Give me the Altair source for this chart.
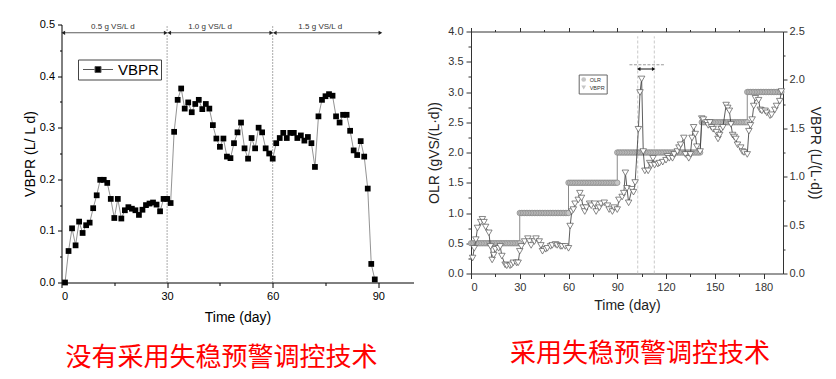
import altair as alt
import pandas as pd

# ---------------- left panel data ----------------
left_days = list(range(1, 90))
left_vbpr = [0.000, 0.061, 0.105, 0.072, 0.118, 0.096, 0.111, 0.116, 0.144, 0.169,
             0.199, 0.199, 0.193, 0.162, 0.125, 0.162, 0.124, 0.140, 0.146, 0.143,
             0.140, 0.131, 0.141, 0.150, 0.153, 0.155, 0.151, 0.138, 0.162, 0.162,
             0.154, 0.292, 0.354, 0.376, 0.337, 0.349, 0.330, 0.346, 0.354, 0.336,
             0.346, 0.337, 0.305, 0.279, 0.263, 0.279, 0.244, 0.241, 0.270, 0.291,
             0.310, 0.260, 0.240, 0.280, 0.260, 0.300, 0.291, 0.260, 0.250, 0.240,
             0.270, 0.280, 0.290, 0.280, 0.290, 0.290, 0.280, 0.285, 0.275, 0.282,
             0.270, 0.224, 0.322, 0.354, 0.361, 0.365, 0.362, 0.322, 0.310, 0.325,
             0.325, 0.294, 0.256, 0.247, 0.274, 0.244, 0.182, 0.036, 0.006]
phase_labels = ["0.5 g VS/L d", "1.0 g VS/L d", "1.5 g VS/L d"]
phase_start = [0.5, 30.6, 60.6]
phase_end = [29.6, 59.6, 90.6]
phase_label_x = [14.6, 42.2, 73.5]
phase_bounds = [30, 60]
phase_arrow_y = 0.484
phase_text_y = 0.495

# ---------------- right panel data ----------------
olr_levels = [0.5, 1.0, 1.5, 2.0, 2.5, 3.0]
olr_start = [0, 30, 60, 90, 142, 170]
olr_end = [30, 60, 90, 141, 170, 191]

vbpr_days = [1, 2, 3, 4, 6, 7, 8, 9, 11, 12,
             13, 14, 15, 17, 18, 19, 21, 22, 24, 25,
             26, 28, 29, 30, 31, 33, 35, 36, 37, 39,
             40, 42, 43, 44, 46, 47, 49, 50, 52, 53,
             55, 56, 58, 60, 61, 62, 63, 64, 66, 67,
             68, 69, 70, 71, 73, 74, 76, 77, 79, 80,
             82, 84, 85, 87, 88, 90, 91, 93, 94, 95,
             96, 97, 99, 100, 101, 103, 104, 105, 106, 107,
             109, 110, 111, 112, 113, 115, 116, 118, 120, 121,
             122, 124, 125, 127, 128, 129, 131, 132, 134, 135,
             136, 137, 138, 139, 141, 142, 143, 145, 146, 147,
             148, 149, 151, 152, 153, 154, 155, 157, 158, 159,
             160, 161, 162, 163, 164, 166, 167, 168, 170, 171,
             172, 173, 174, 175, 177, 178, 179, 181, 182, 184,
             185, 187, 188, 190, 191]
vbpr_vals = [0.16, 0.26, 0.35, 0.47, 0.53, 0.56, 0.53, 0.48, 0.42, 0.28,
             0.14, 0.19, 0.25, 0.26, 0.28, 0.18, 0.09, 0.08, 0.08, 0.09,
             0.11, 0.11, 0.11, 0.23, 0.28, 0.33, 0.36, 0.33, 0.29, 0.33,
             0.36, 0.33, 0.29, 0.23, 0.25, 0.26, 0.28, 0.29, 0.30, 0.29,
             0.28, 0.28, 0.28, 0.26, 0.49, 0.64, 0.66, 0.72, 0.76, 0.83,
             0.78, 0.68, 0.64, 0.68, 0.72, 0.70, 0.72, 0.64, 0.68, 0.72,
             0.73, 0.70, 0.66, 0.64, 0.68, 0.66, 0.76, 0.79, 0.83, 1.04,
             0.88, 0.73, 0.87, 0.84, 0.94, 1.49, 1.87, 2.01, 1.26, 1.06,
             1.06, 1.14, 1.12, 1.19, 1.12, 1.13, 1.14, 1.15, 1.17, 1.21,
             1.19, 1.19, 1.23, 1.26, 1.30, 1.33, 1.40, 1.23, 1.19, 1.23,
             1.40, 1.51, 1.44, 1.31, 1.26, 1.60, 1.59, 1.56, 1.53, 1.56,
             1.51, 1.49, 1.46, 1.39, 1.43, 1.49, 1.51, 1.74, 1.71, 1.68,
             1.54, 1.43, 1.41, 1.39, 1.33, 1.30, 1.26, 1.25, 1.23, 1.47,
             1.53, 1.59, 1.73, 1.81, 1.79, 1.69, 1.68, 1.68, 1.66, 1.63,
             1.64, 1.69, 1.73, 1.78, 1.88]
guide_days = [102.6, 112.8]
guide_top = 3.92
arrow_span = [103.2, 112.4]
arrow_y = 3.38
note_span = [97.5, 119.0]
note_y = 3.45

caption_left = "没有采用失稳预警调控技术"
caption_right = "采用失稳预警调控技术"

FONT = "Liberation Sans"
CJK = "Noto Sans CJK SC"


def cond(test, a, b):
    return {"condition": {"test": test, "value": a}, "value": b}


MAJ01 = "abs(datum.value*10 - round(datum.value*10)) < 0.001"
MAJ05 = "abs(datum.value*2 - round(datum.value*2)) < 0.001"
MAJ30 = "datum.value % 30 == 0"

# ================= LEFT PANEL =================
LW, LH = 352, 258
left_df = pd.DataFrame({"day": left_days, "vbpr": left_vbpr})
left_df["series"] = "VBPR"

lx_scale = alt.Scale(domain=[0, 100], nice=False)
ly_scale = alt.Scale(domain=[0, 0.5], nice=False)

lx_axis = alt.Axis(values=[0, 15, 30, 45, 60, 75, 90],
                   labelExpr=f"{MAJ30} ? datum.label : ''",
                   tickSize=cond(MAJ30, 5, 3), title="Time (day)", grid=False,
                   domainColor="black", tickColor="black", labelColor="black",
                   titleColor="black", labelFontSize=11, titleFontSize=14,
                   titleFontWeight="normal", labelOverlap=False, titlePadding=9,
                   labelPadding=3, labelFont=FONT, titleFont=FONT)
ly_axis = alt.Axis(values=[0, 0.05, 0.1, 0.15, 0.2, 0.25, 0.3, 0.35, 0.4, 0.45, 0.5],
                   labelExpr=f"{MAJ01} ? format(datum.value, '.1f') : ''",
                   tickSize=cond(MAJ01, 4, 2), title="VBPR (L/ L d)", grid=False,
                   domainColor="black", tickColor="black", labelColor="black",
                   titleColor="black", labelFontSize=11, titleFontSize=14,
                   titleFontWeight="normal", labelOverlap=False, titlePadding=2,
                   labelPadding=3, labelFont=FONT, titleFont=FONT)

l_line = alt.Chart(left_df).mark_line(color="#777777", strokeWidth=0.8).encode(
    x=alt.X("day:Q", scale=lx_scale, axis=lx_axis),
    y=alt.Y("vbpr:Q", scale=ly_scale, axis=ly_axis),
)
left_legend = alt.Legend(
    orient="none", legendX=16.5, legendY=35, title=None,
    symbolType="M-2,0H-0.45M0.45,0H2M-0.4,-0.4H0.4V0.4H-0.4Z",
    symbolSize=225, symbolStrokeColor="#555555", symbolStrokeWidth=1,
    symbolFillColor="black", symbolOffset=10, labelOffset=12,
    labelFontSize=15, labelFont=FONT, labelColor="black",
    padding=2, strokeColor="#444444", fillColor="white",
)
l_pts = alt.Chart(left_df).mark_point(shape="square", filled=True, size=33, opacity=1).encode(
    x=alt.X("day:Q", scale=lx_scale, axis=None),
    y=alt.Y("vbpr:Q", scale=ly_scale, axis=None),
    color=alt.Color("series:N", scale=alt.Scale(domain=["VBPR"], range=["black"]),
                    legend=left_legend),
)
bound_df = pd.DataFrame({"x": phase_bounds})
l_bounds = alt.Chart(bound_df).mark_rule(color="#555555", strokeDash=[1, 2], strokeWidth=1).encode(
    x=alt.X("x:Q", scale=lx_scale, axis=None),
    y=alt.Y(datum=0, scale=ly_scale, axis=None),
    y2=alt.Y2(datum=0.5),
)
phase_df = pd.DataFrame({"s": phase_start, "e": phase_end, "lx": phase_label_x,
                         "label": phase_labels})
l_arrows = alt.Chart(phase_df).mark_rule(color="#333333", strokeWidth=0.8).encode(
    x=alt.X("s:Q", scale=lx_scale, axis=None), x2="e:Q",
    y=alt.Y(datum=phase_arrow_y, scale=ly_scale, axis=None),
)
l_head_l = alt.Chart(phase_df).mark_point(shape="triangle-left", filled=True, size=18,
                                           color="#222222", opacity=1).encode(
    x=alt.X("s:Q", scale=lx_scale, axis=None),
    y=alt.Y(datum=phase_arrow_y, scale=ly_scale, axis=None),
)
l_head_r = alt.Chart(phase_df).mark_point(shape="triangle-right", filled=True, size=18,
                                           color="#222222", opacity=1).encode(
    x=alt.X("e:Q", scale=lx_scale, axis=None),
    y=alt.Y(datum=phase_arrow_y, scale=ly_scale, axis=None),
)
l_text = alt.Chart(phase_df).mark_text(fontSize=8, font=FONT, color="#333333",
                                        baseline="middle").encode(
    x=alt.X("lx:Q", scale=lx_scale, axis=None),
    y=alt.Y(datum=phase_text_y, scale=ly_scale, axis=None),
    text="label:N",
)

left = alt.layer(l_line, l_bounds, l_pts, l_arrows, l_head_l, l_head_r, l_text).resolve_axis(
    x="independent", y="independent").properties(
    width=LW, height=LH,
    title=alt.TitleParams(text=caption_left, orient="bottom", anchor="middle", font=CJK,
                          fontSize=26, fontWeight="normal", color="#ff0000", offset=20,
                          dx=-16),
)

# ================= RIGHT PANEL =================
RW, RH = 312, 242
olr_rows = []
for lvl, s, e in zip(olr_levels, olr_start, olr_end):
    for d in range(s, e + 1):
        olr_rows.append({"day": d, "olr": lvl, "idx": len(olr_rows), "series": "OLR"})
olr_df = pd.DataFrame(olr_rows)
vb_df = pd.DataFrame({"day": vbpr_days, "vbpr": vbpr_vals})
vb_df["series"] = "VBPR"

rx_scale = alt.Scale(domain=[0, 192], nice=False)
olr_scale = alt.Scale(domain=[0, 4], nice=False)
vb_scale = alt.Scale(domain=[0, 2.5], nice=False)
AX = "#333333"
xvals = [0, 15, 30, 45, 60, 75, 90, 105, 120, 135, 150, 165, 180]
rx_axis = alt.Axis(values=xvals, labelExpr=f"{MAJ30} ? datum.label : ''",
                   tickSize=cond(MAJ30, 5, 3), title="Time (day)", grid=False,
                   domainColor=AX, tickColor=AX, labelColor=AX, titleColor="#222222",
                   labelFontSize=11, titleFontSize=14, titleFontWeight="normal",
                   labelOverlap=False, titlePadding=6, labelPadding=3,
                   labelFont=FONT, titleFont=FONT)
top_axis = alt.Axis(orient="top", values=xvals, labels=False, title=None,
                    tickSize=cond(MAJ30, 4, 2), grid=False, domainColor=AX, tickColor=AX)
olr_axis = alt.Axis(values=[0, 0.25, 0.5, 0.75, 1, 1.25, 1.5, 1.75, 2, 2.25, 2.5, 2.75,
                            3, 3.25, 3.5, 3.75, 4],
                    labelExpr=f"{MAJ05} ? format(datum.value, '.1f') : ''",
                    tickSize=cond(MAJ05, 5, 3), title="OLR (gVS/(L·d))", grid=False,
                    domainColor=AX, tickColor=AX, labelColor=AX, titleColor="#222222",
                    labelFontSize=11, titleFontSize=14, titleFontWeight="normal",
                    labelOverlap=False, titlePadding=6, labelPadding=3,
                    labelFont=FONT, titleFont=FONT)
vb_axis = alt.Axis(orient="right",
                   values=[0, 0.25, 0.5, 0.75, 1, 1.25, 1.5, 1.75, 2, 2.25, 2.5],
                   labelExpr=f"{MAJ05} ? format(datum.value, '.1f') : ''",
                   tickSize=cond(MAJ05, 4, 2), title="VBPR (L/(L·d))", grid=False,
                   domainColor=AX, tickColor=AX, labelColor=AX, titleColor="#222222",
                   labelFontSize=11, titleFontSize=14, titleFontWeight="normal",
                   labelOverlap=False, titlePadding=3, labelPadding=2,
                   labelFont=FONT, titleFont=FONT)

shape_scale = alt.Scale(domain=["OLR", "VBPR"], range=["circle", "triangle-down"])
right_legend = alt.Legend(orient="none", legendX=107.7, legendY=43, title=None,
                          labelFontSize=5.5, labelFont=FONT, labelColor="#333333",
                          symbolSize=22, symbolFillColor="white",
                          symbolStrokeColor="#444444", symbolStrokeWidth=0.7,
                          padding=2, rowPadding=0, strokeColor="#666666",
                          fillColor="white", labelOffset=3)

r_line_olr = alt.Chart(olr_df).mark_line(color="#8a8a8a", strokeWidth=1).encode(
    x=alt.X("day:Q", scale=rx_scale, axis=rx_axis),
    y=alt.Y("olr:Q", scale=olr_scale, axis=olr_axis),
    order="idx:Q",
)
r_pts_olr = alt.Chart(olr_df).mark_point(filled=True, fill="#c6c6c6", stroke="#7a7a7a",
                                         strokeWidth=0.6, size=30, opacity=1).encode(
    x=alt.X("day:Q", scale=rx_scale, axis=None),
    y=alt.Y("olr:Q", scale=olr_scale, axis=None),
    shape=alt.Shape("series:N", scale=shape_scale, legend=right_legend),
)
guide_df = pd.DataFrame({"x": guide_days})
r_guides = alt.Chart(guide_df).mark_rule(color="#bbbbbb", strokeDash=[3, 2],
                                         strokeWidth=0.8).encode(
    x=alt.X("x:Q", scale=rx_scale, axis=None),
    y=alt.Y(datum=0, scale=olr_scale, axis=None),
    y2=alt.Y2(datum=guide_top),
)
arr_df = pd.DataFrame({"s": [arrow_span[0]], "e": [arrow_span[1]],
                       "ns": [note_span[0]], "ne": [note_span[1]]})
r_arrow = alt.Chart(arr_df).mark_rule(color="#111111", strokeWidth=1).encode(
    x=alt.X("s:Q", scale=rx_scale, axis=None), x2="e:Q",
    y=alt.Y(datum=arrow_y, scale=olr_scale, axis=None),
)
r_head_l = alt.Chart(arr_df).mark_point(shape="triangle-left", filled=True, size=16,
                                        color="#111111", opacity=1).encode(
    x=alt.X("s:Q", scale=rx_scale, axis=None),
    y=alt.Y(datum=arrow_y, scale=olr_scale, axis=None),
)
r_head_r = alt.Chart(arr_df).mark_point(shape="triangle-right", filled=True, size=16,
                                        color="#111111", opacity=1).encode(
    x=alt.X("e:Q", scale=rx_scale, axis=None),
    y=alt.Y(datum=arrow_y, scale=olr_scale, axis=None),
)
r_note = alt.Chart(arr_df).mark_rule(color="#999999", strokeDash=[3, 1.5],
                                     strokeWidth=1).encode(
    x=alt.X("ns:Q", scale=rx_scale, axis=None), x2="ne:Q",
    y=alt.Y(datum=note_y, scale=olr_scale, axis=None),
)
r_line_vb = alt.Chart(vb_df).mark_line(color="#333333", strokeWidth=0.8).encode(
    x=alt.X("day:Q", scale=rx_scale, axis=top_axis),
    y=alt.Y("vbpr:Q", scale=vb_scale, axis=vb_axis),
)
r_pts_vb = alt.Chart(vb_df).mark_point(filled=True, fill="white", stroke="#555555",
                                       strokeWidth=0.7, size=42, opacity=1).encode(
    x=alt.X("day:Q", scale=rx_scale, axis=None),
    y=alt.Y("vbpr:Q", scale=vb_scale, axis=None),
    shape=alt.Shape("series:N", scale=shape_scale, legend=right_legend),
)

right = alt.layer(r_line_olr, r_guides, r_pts_olr, r_note, r_arrow, r_head_l, r_head_r,
                  r_line_vb, r_pts_vb).resolve_scale(y="independent").resolve_axis(
    x="independent", y="independent").properties(
    width=RW, height=RH,
    title=alt.TitleParams(text=caption_right, orient="bottom", anchor="middle", font=CJK,
                          fontSize=26, fontWeight="normal", color="#ff0000", offset=28,
                          dx=13),
)

spacer = alt.Chart(pd.DataFrame({"v": [0]})).mark_point(opacity=0).properties(
    width=RW, height=7)
right_col = alt.vconcat(spacer, right, spacing=0, bounds="flush").resolve_scale(
    shape="independent").resolve_legend(shape="independent")

chart = alt.hconcat(left, right_col, spacing=57.5, bounds="flush").resolve_scale(
    color="independent", shape="independent").resolve_legend(
    color="independent", shape="independent").properties(
    padding={"left": 14.5, "top": 10.5, "right": 2, "bottom": 3},
    background="white",
).configure(font=FONT).configure_view(stroke=None)

chart.save("out.html", embed_options={"renderer": "svg", "actions": False})
